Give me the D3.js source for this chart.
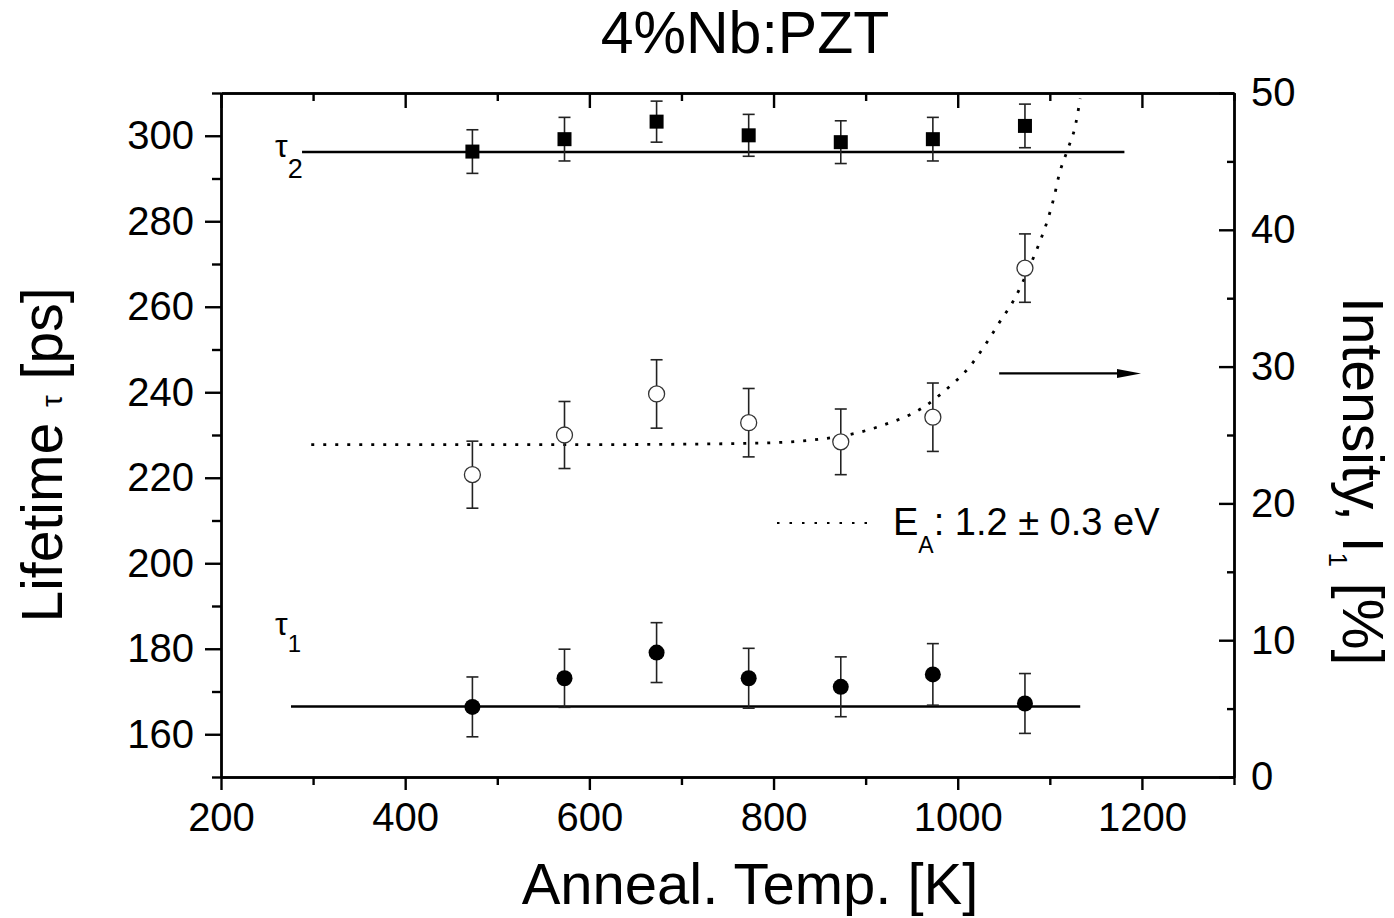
<!DOCTYPE html>
<html lang="en">
<head>
    <meta charset="UTF-8">
    <script src="https://d3js.org/d3.v7.min.js"></script>
    <title>4%Nb:PZT</title>
    <style>
        body { margin: 0; background: white; }
        text { font-family: "Liberation Sans", Arial, sans-serif; fill: black; }
        .axis path, .axis line { stroke: black; stroke-width: 2.4px; }
        .axis text { font-size: 40px; }
    </style>
</head>
<body>
    <div id="chart"></div>
    <script>
        // annealing temperatures [K]
        const temps = [473, 573, 673, 773, 873, 973, 1073];
        // tau2 lifetime [ps] (squares)
        const tau2 = [296.3, 299.2, 303.3, 300.1, 298.5, 299.2, 302.3];
        const tau2Err = [5.1, 5.1, 4.8, 4.9, 5.0, 5.1, 5.1];
        // tau1 lifetime [ps] (filled circles)
        const tau1 = [166.4, 173.1, 179.1, 173.1, 171.1, 174.0, 167.2];
        const tau1Err = [7, 6.8, 7, 7, 7, 7.2, 7];
        // intensity I1 [%] (open circles, right axis)
        const intensity = [22.1, 25.0, 28.0, 25.9, 24.5, 26.3, 37.2];
        const intensityErr = [2.45, 2.45, 2.5, 2.5, 2.4, 2.5, 2.5];
        // mean lines
        const tau2Mean = 296.2, tau2Span = [288, 1181];
        const tau1Mean = 166.5, tau1Span = [276, 1133];
        // fitted activation curve
        const fitT = [298, 611, 781, 872, 918, 962, 987, 1013, 1031, 1045, 1062, 1078, 1089, 1098, 1105, 1110, 1119, 1128, 1133];
        const fitI = [24.3, 24.3, 24.4, 24.9, 25.7, 27.0, 28.3, 30.0, 31.7, 33.2, 35.0, 37.3, 39.1, 40.8, 42.5, 44.0, 45.8, 47.7, 49.6];
        // arrow pointing to right axis
        const arrowT = [1045, 1199], arrowI = 29.5;

        const width = 1394, height = 918;
        const margin = { left: 221, right: 160, top: 93, bottom: 141 };

        const svg = d3.select("#chart").append("svg")
            .attr("width", width)
            .attr("height", height);

        const x = d3.scaleLinear().domain([200, 1300]).range([margin.left, width - margin.right]);
        const yL = d3.scaleLinear().domain([150, 310]).range([height - margin.bottom, margin.top]);
        const yR = d3.scaleLinear().domain([0, 50]).range([height - margin.bottom, margin.top]);

        const major = (a, b, s) => d3.range(a, b + 0.001, s);
        const fmt = d3.format("d");

        // bottom axis
        svg.append("g").attr("class", "axis")
            .attr("transform", `translate(0,${height - margin.bottom})`)
            .call(d3.axisBottom(x).tickValues(major(300, 1300, 200)).tickFormat("").tickSize(8).tickSizeOuter(0));
        svg.append("g").attr("class", "axis")
            .attr("transform", `translate(0,${height - margin.bottom})`)
            .call(d3.axisBottom(x).tickValues(major(200, 1200, 200)).tickFormat(fmt).tickSize(13).tickPadding(13).tickSizeOuter(0));

        // top axis
        svg.append("g").attr("class", "axis")
            .attr("transform", `translate(0,${margin.top})`)
            .call(d3.axisTop(x).tickValues(major(300, 1300, 200)).tickFormat("").tickSize(-8).tickSizeOuter(0));
        svg.append("g").attr("class", "axis")
            .attr("transform", `translate(0,${margin.top})`)
            .call(d3.axisTop(x).tickValues(major(200, 1200, 200)).tickFormat("").tickSize(-15).tickSizeOuter(0));

        // left axis
        svg.append("g").attr("class", "axis")
            .attr("transform", `translate(${margin.left},0)`)
            .call(d3.axisLeft(yL).tickValues(major(150, 310, 20)).tickFormat("").tickSize(9).tickSizeOuter(0));
        svg.append("g").attr("class", "axis")
            .attr("transform", `translate(${margin.left},0)`)
            .call(d3.axisLeft(yL).tickValues(major(160, 300, 20)).tickFormat(fmt).tickSize(16).tickPadding(11).tickSizeOuter(0));

        // right axis
        svg.append("g").attr("class", "axis")
            .attr("transform", `translate(${width - margin.right},0)`)
            .call(d3.axisRight(yR).tickValues(major(5, 45, 10)).tickFormat("").tickSize(-7).tickSizeOuter(0));
        svg.append("g").attr("class", "axis")
            .attr("transform", `translate(${width - margin.right},0)`)
            .call(d3.axisRight(yR).tickValues(major(0, 50, 10)).tickFormat(fmt).tickSize(-15).tickPadding(17).tickSizeOuter(0));

        // title and axis titles
        svg.append("text")
            .attr("x", 745).attr("y", 53)
            .attr("text-anchor", "middle")
            .style("font-size", "59px")
            .text("4%Nb:PZT");

        svg.append("text")
            .attr("x", 750).attr("y", 904)
            .attr("text-anchor", "middle")
            .style("font-size", "58px")
            .text("Anneal. Temp. [K]");

        const leftTitle = svg.append("text")
            .attr("transform", "translate(62,455) rotate(-90)")
            .attr("text-anchor", "middle")
            .style("font-size", "57px");
        leftTitle.append("tspan").text("Lifetime ");
        leftTitle.append("tspan").style("font-size", "30px").text("τ");
        leftTitle.append("tspan").text(" [ps]");

        const rightTitle = svg.append("text")
            .attr("transform", "translate(1343,297) rotate(90)")
            .attr("text-anchor", "start")
            .style("font-size", "57px");
        rightTitle.append("tspan").text("Intensity, I");
        rightTitle.append("tspan").attr("dy", 14).style("font-size", "26px").text("1");
        rightTitle.append("tspan").attr("dy", -14).text(" [%]");

        // mean lines
        svg.append("line")
            .attr("x1", x(tau2Span[0])).attr("x2", x(tau2Span[1]))
            .attr("y1", yL(tau2Mean)).attr("y2", yL(tau2Mean))
            .attr("stroke", "black").attr("stroke-width", 2.5);
        svg.append("line")
            .attr("x1", x(tau1Span[0])).attr("x2", x(tau1Span[1]))
            .attr("y1", yL(tau1Mean)).attr("y2", yL(tau1Mean))
            .attr("stroke", "black").attr("stroke-width", 2.5);

        // fit curve
        const fitLine = d3.line()
            .x((d, i) => x(fitT[i]))
            .y(d => yR(d))
            .curve(d3.curveMonotoneX);
        svg.append("path")
            .attr("d", fitLine(fitI))
            .attr("fill", "none")
            .attr("stroke", "black")
            .attr("stroke-width", 2.8)
            .attr("stroke-dasharray", "3,9");

        // error bars
        const drawErr = (vals, errs, scale) => {
            const g = svg.append("g").attr("stroke", "#222").attr("stroke-width", 1.6);
            temps.forEach((t, i) => {
                const cx = x(t), top = scale(vals[i] + errs[i]), bot = scale(vals[i] - errs[i]);
                g.append("line").attr("x1", cx).attr("x2", cx).attr("y1", top).attr("y2", bot);
                g.append("line").attr("x1", cx - 6).attr("x2", cx + 6).attr("y1", top).attr("y2", top);
                g.append("line").attr("x1", cx - 6).attr("x2", cx + 6).attr("y1", bot).attr("y2", bot);
            });
        };
        drawErr(tau2, tau2Err, yL);
        drawErr(tau1, tau1Err, yL);
        drawErr(intensity, intensityErr, yR);

        // markers
        svg.selectAll(".sq").data(tau2).enter().append("rect")
            .attr("x", (d, i) => x(temps[i]) - 7)
            .attr("y", d => yL(d) - 7)
            .attr("width", 14).attr("height", 14)
            .attr("fill", "black");

        svg.selectAll(".dot1").data(tau1).enter().append("circle")
            .attr("cx", (d, i) => x(temps[i]))
            .attr("cy", d => yL(d))
            .attr("r", 8)
            .attr("fill", "black");

        svg.selectAll(".dotI").data(intensity).enter().append("circle")
            .attr("cx", (d, i) => x(temps[i]))
            .attr("cy", d => yR(d))
            .attr("r", 8)
            .attr("fill", "white")
            .attr("stroke", "#333")
            .attr("stroke-width", 1.3);

        // series labels
        const lab2 = svg.append("text").attr("x", 275).attr("y", 157).style("font-size", "32px");
        lab2.append("tspan").text("τ");
        lab2.append("tspan").attr("dy", 21).style("font-size", "27px").text("2");

        const lab1 = svg.append("text").attr("x", 275).attr("y", 635).style("font-size", "32px");
        lab1.append("tspan").text("τ");
        lab1.append("tspan").attr("dy", 17).style("font-size", "24px").text("1");

        // arrow
        const ay = yR(arrowI);
        svg.append("line")
            .attr("x1", x(arrowT[0])).attr("x2", x(arrowT[1]) - 20)
            .attr("y1", ay).attr("y2", ay)
            .attr("stroke", "black").attr("stroke-width", 2.2);
        svg.append("path")
            .attr("d", `M${x(arrowT[1])},${ay} L${x(arrowT[1]) - 24},${ay - 4.5} L${x(arrowT[1]) - 24},${ay + 4.5} Z`)
            .attr("fill", "black");

        // legend for fit
        svg.append("line")
            .attr("x1", 777).attr("x2", 868)
            .attr("y1", 523).attr("y2", 523)
            .attr("stroke", "black").attr("stroke-width", 2)
            .attr("stroke-dasharray", "2.5,10");
        const leg = svg.append("text").attr("x", 893).attr("y", 535).style("font-size", "38px");
        leg.append("tspan").text("E");
        leg.append("tspan").attr("dy", 18).style("font-size", "23px").text("A");
        leg.append("tspan").attr("dy", -18).text(": 1.2 ± 0.3 eV");
    </script>
</body>
</html>
